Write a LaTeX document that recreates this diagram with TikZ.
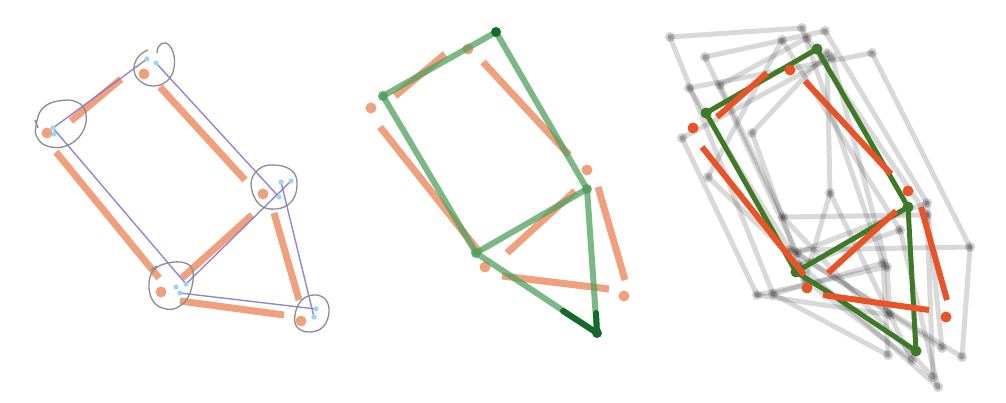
\documentclass[tikz,border=0pt]{standalone}
\definecolor{salmon}{RGB}{240,160,124}
\definecolor{lpurple}{RGB}{135,120,210}
\definecolor{lblue}{RGB}{150,215,245}
\definecolor{ringgray}{RGB}{140,140,140}
\definecolor{gtwo}{RGB}{80,160,92}
\definecolor{gdark}{RGB}{20,105,45}
\definecolor{gthree}{RGB}{62,122,38}
\definecolor{othree}{RGB}{232,84,40}
\tikzset{
  obar/.style={draw=salmon, line width=7pt},
  odot/.style={fill=salmon},
  purp/.style={draw=lpurple, line width=1.4pt, draw opacity=0.9},
  bdot/.style={fill=lblue},
  ring/.style={draw=ringgray, line width=1.3pt},
  gline/.style={draw=gtwo, line width=6pt, draw opacity=0.75, line cap=round},
  gdot/.style={fill=gtwo, fill opacity=0.85},
  gdk/.style={draw=gdark, line width=6pt, line cap=round},
  obarthree/.style={draw=othree, line width=6pt},
  othreedot/.style={fill=othree},
  glinethree/.style={draw=gthree, line width=5pt, line cap=round, line join=round},
  gdotthree/.style={fill=gthree},
  ghost/.style={draw=black, line width=5pt, draw opacity=0.15, line cap=round},
  ghostdot/.style={fill=black, fill opacity=0.18},
}
\begin{document}
\begin{tikzpicture}[x=1pt,y=-1pt]
\useasboundingbox (0,0) rectangle (1006,403);
% ================= Panel 1 =================
\coordinate (pA) at (144,74);
\coordinate (pB) at (47,133);
\coordinate (pC) at (263,194);
\coordinate (pD) at (161,292);
\coordinate (pE) at (301,321);
% bars
\coordinate (b1s) at (71,121); \coordinate (b1e) at (121,79);
\coordinate (b2s) at (56,152); \coordinate (b2e) at (159,278);
\coordinate (b3s) at (160,87); \coordinate (b3e) at (245,180);
\coordinate (b4s) at (182,278); \coordinate (b4e) at (252,215);
\coordinate (b5s) at (180,301); \coordinate (b5e) at (284,315);
\coordinate (b6s) at (274,213); \coordinate (b6e) at (299,300);
\foreach \i in {1,...,6} \draw[obar] (b\i s) -- (b\i e);
\foreach \p in {pA,pB,pC,pD,pE} \fill[odot] (\p) circle (5.5pt);
% blue points
\coordinate (a1) at (147,59); \coordinate (a2) at (156,63);
\coordinate (bb1) at (53,128); \coordinate (bb2) at (54,134);
\coordinate (c1) at (281,182); \coordinate (c2) at (291,181); \coordinate (c3) at (279,197);
\coordinate (d1) at (176,287); \coordinate (d2) at (186,284); \coordinate (d3) at (180,293);
\coordinate (e1) at (316,309); \coordinate (e2) at (314,317);
% purple lines
\draw[purp] (bb1) -- (a1);
\draw[purp] (bb1) -- (d2);
\draw[purp] (a2) -- (c3);
\draw[purp] (d2) -- (c2);
\draw[purp] (d3) -- (e1);
\draw[purp] (c1) -- (e2);
\foreach \p in {a1,a2,bb1,bb2,c1,c2,c3,d1,d2,d3,e1,e2} \fill[bdot] (\p) circle (2.6pt);
% rings
\draw[ring] plot[smooth, tension=0.7] coordinates {(148,50) (138,57) (134,70) (140,81) (153,86) (167,81) (174,68) (173,52) (166,43) (159,46) (157,53)};
\draw[ring] plot[smooth cycle, tension=0.7] coordinates {(36,126) (42,109) (58,101) (77,102) (86,114) (82,133) (66,146) (47,146) (37,137)};
\draw[ring] (35,120) -- (38,128);
\draw[ring] plot[smooth cycle, tension=0.7] coordinates {(251,184) (259,169) (274,165) (291,170) (297,183) (292,201) (276,209) (259,204)};
\draw[ring] plot[smooth cycle, tension=0.7] coordinates {(149,284) (154,270) (168,263) (185,263) (193,272) (190,293) (180,306) (166,309) (153,301)};
\draw[ring] (151,270) -- (157,266);
\draw[ring] plot[smooth cycle, tension=0.7] coordinates {(295,315) (301,301) (313,295) (325,299) (329,312) (323,327) (309,332) (297,327)};
% ================= Panel 2 =================
\coordinate (q1) at (496,32);
\coordinate (q2) at (383,96);
\coordinate (q3) at (587,189);
\coordinate (q4) at (476,253);
\coordinate (q5) at (597,333);
\coordinate (r1s) at (395,96); \coordinate (r1e) at (445,54);
\coordinate (r2s) at (380,127); \coordinate (r2e) at (480,253);
\coordinate (r3s) at (483,62); \coordinate (r3e) at (569,155);
\coordinate (r4s) at (507,253); \coordinate (r4e) at (575,191);
\coordinate (r5s) at (502,276); \coordinate (r5e) at (609,289);
\coordinate (r6s) at (598,187); \coordinate (r6e) at (625,280);
\foreach \i in {1,...,6} \draw[obar] (r\i s) -- (r\i e);
\coordinate (s1) at (468,49);
\coordinate (s2) at (371,108);
\coordinate (s3) at (587,170);
\coordinate (s4) at (485,267);
\coordinate (s5) at (624,296);
\foreach \p in {s1,s2,s3,s4,s5} \fill[odot] (\p) circle (5.5pt);
\draw[gline] (q2) -- (q1);
\draw[gline] (q1) -- (q3);
\draw[gline] (q2) -- (q4);
\draw[gline] (q4) -- (q3);
\draw[gline] (q4) -- (q5);
\draw[gline] (q3) -- (q5);
\coordinate (k1) at (563,311);
\coordinate (k2) at (596,313);
\draw[gdk] (k1) -- (q5);
\draw[gdk] (k2) -- (q5);
\fill[gdark] (q1) circle (5pt);
\fill[gdark] (q5) circle (5pt);
\foreach \p in {q2,q3,q4} \fill[gdot] (\p) circle (5pt);
% ================= Panel 3 =================
\foreach \tx/\ty/\lx/\ly/\rx/\ry/\mx/\my/\bx/\by in {
  802/28/670/37/883/263/773/294/888/355,
  825/31/705/57/927/203/797/253/942/348,
  872/53/689/88/970/247/790/250/962/357,
  807/38/720/85/927/215/783/217/933/377,
  782/40/708/177/900/230/800/265/938/387,
  827/53/752/133/830/193/805/280/912/360,
  832/57/682/138/887/267/757/295/890/315}{
  \coordinate (hT) at (\tx,\ty);
  \coordinate (hL) at (\lx,\ly);
  \coordinate (hR) at (\rx,\ry);
  \coordinate (hM) at (\mx,\my);
  \coordinate (hB) at (\bx,\by);
  \draw[ghost] (hL) -- (hT);
  \draw[ghost] (hT) -- (hR);
  \draw[ghost] (hL) -- (hM);
  \draw[ghost] (hM) -- (hR);
  \draw[ghost] (hM) -- (hB);
  \draw[ghost] (hR) -- (hB);
  \foreach \p in {hT,hL,hR,hM,hB} \fill[ghostdot] (\p) circle (5pt);
}
\coordinate (u1) at (817,49);
\coordinate (u2) at (706,113);
\coordinate (u3) at (908,207);
\coordinate (u4) at (796,272);
\coordinate (u5) at (916,351);
\coordinate (v1s) at (717,117); \coordinate (v1e) at (767,73);
\coordinate (v2s) at (702,147); \coordinate (v2e) at (804,275);
\coordinate (v3s) at (805,81); \coordinate (v3e) at (891,174);
\coordinate (v4s) at (828,273); \coordinate (v4e) at (896,211);
\coordinate (v5s) at (823,295); \coordinate (v5e) at (929,310);
\coordinate (v6s) at (921,207); \coordinate (v6e) at (947,300);
\coordinate (w1) at (790,70);
\coordinate (w2) at (693,128);
\coordinate (w3) at (908,191);
\coordinate (w4) at (807,288);
\coordinate (w5) at (946,317);
\draw[glinethree] (u2) -- (u1) -- (u3);
\draw[glinethree] (u2) -- (u4) -- (u3);
\coordinate (uk) at (825,290);
\draw[glinethree] (u4) -- (uk) -- (u5);
\draw[glinethree] (u3) -- (u5);
\foreach \p in {u1,u2,u3,u4,u5} \fill[gdotthree] (\p) circle (5.5pt);
\foreach \i in {1,...,6} \draw[obarthree] (v\i s) -- (v\i e);
\foreach \p in {w1,w2,w3,w4,w5} \fill[othreedot] (\p) circle (5.5pt);
\end{tikzpicture}
\end{document}
